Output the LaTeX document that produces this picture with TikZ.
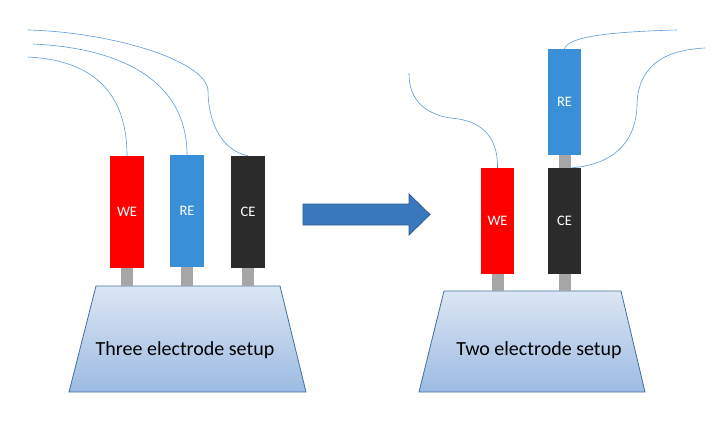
\documentclass[tikz,border=0pt]{standalone}
\usepackage{fontspec}
\setmainfont{Carlito}
\definecolor{weRed}{HTML}{FF0000}
\definecolor{reBlue}{HTML}{3A8FD9}
\definecolor{ceBlack}{HTML}{2B2B2B}
\definecolor{stemGray}{HTML}{A6A6A6}
\definecolor{wireBlue}{HTML}{5B9BD5}
\definecolor{baseTop}{HTML}{DCE6F4}
\definecolor{baseBot}{HTML}{9CBBE2}
\definecolor{baseLine}{HTML}{41719C}
\definecolor{arrowFill}{HTML}{3A78BE}
\definecolor{arrowLine}{HTML}{2E5D8E}
\begin{document}
\begin{tikzpicture}[x=1pt, y=-1pt,
    electrode/.style={rectangle, minimum width=34pt, minimum height=112pt, inner sep=0pt,
      text=white, font=\fontsize{14.5}{17}\selectfont},
    electrodeb/.style={electrode, minimum width=33pt, minimum height=106pt},
    stem/.style={fill=stemGray},
    wire/.style={draw=wireBlue, line width=0.6pt},
    base/.style={draw=baseLine, line width=0.8pt, top color=baseTop, bottom color=baseBot},
    setup/.style={font=\fontsize{20}{24}\selectfont, text=black}]

  \useasboundingbox (0,0) rectangle (724,423);

  % 1. 左边:三电极装置
  \coordinate (top1) at (0,286);
  \path[base] (96,286) -- (280,286) -- (306,392) -- (69,392) -- cycle;
  \node[setup] (lbl1) at (185,350) {Three electrode setup};

  \node[electrode, fill=weRed] (we1) at (127,212) {WE};
  \node[electrode, fill=reBlue] (re1) at (187,211) {RE};
  \node[electrode, fill=ceBlack] (ce1) at (248,212) {CE};

  \foreach \e in {we1,re1,ce1}
    \fill[stem] ([xshift=-6pt]\e.south) rectangle ([xshift=6pt]\e.south |- top1);

  % 导线
  \draw[wire] (we1.north) .. controls (127,90) and (90,60) .. (28,57);
  \draw[wire] (re1.north) .. controls (187,80) and (120,48) .. (33,44);
  \draw[wire] (ce1.north) .. controls (220,150) and (208,120) .. (208,90)
                          .. controls (205,60) and (110,32) .. (28,30);

  % 2. 中间的箭头
  \path[fill=arrowFill, draw=arrowLine, line width=0.8pt]
    (303,204) -- (409,204) -- (409,194) -- (430,214.5) -- (409,235) -- (409,225) -- (303,225) -- cycle;

  % 3. 右边:两电极装置
  \coordinate (top2) at (0,291);
  \path[base] (444,291) -- (621,291) -- (645,392) -- (419,392) -- cycle;
  \node[setup] (lbl2) at (539,350) {Two electrode setup};

  \node[electrodeb, fill=weRed] (we2) at (497.5,221) {WE};
  \node[electrodeb, fill=ceBlack] (ce2) at (564.5,221) {CE};
  \node[electrodeb, fill=reBlue] (re2) at (564.5,102) {RE};

  \foreach \e in {we2,ce2}
    \fill[stem] ([xshift=-6pt]\e.south) rectangle ([xshift=6pt]\e.south |- top2);
  \fill[stem] ([xshift=-6pt]re2.south) rectangle ([xshift=6pt]ce2.north);

  % 导线
  \draw[wire] (we2.north) .. controls (498,135) and (480,120) .. (450,118)
                          .. controls (415,112) and (409,90) .. (409,73);
  \draw[wire] (re2.north) .. controls (568,38) and (600,32) .. (677,30);
  \draw[wire] ([xshift=7pt]ce2.north) .. controls (610,165) and (636,145) .. (637,105)
                          .. controls (638,65) and (665,50) .. (705,48);

\end{tikzpicture}
\end{document}
